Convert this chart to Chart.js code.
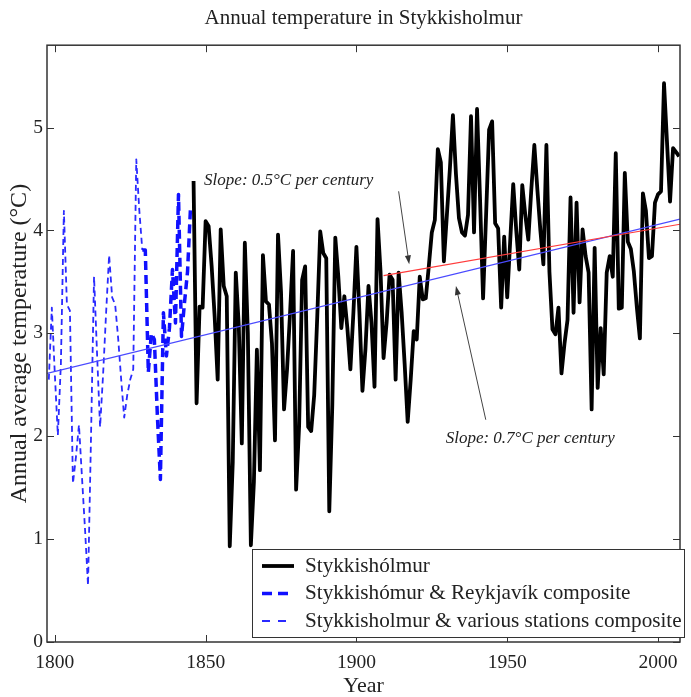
<!DOCTYPE html>
<html>
<head>
<meta charset="utf-8">
<title>Annual temperature in Stykkisholmur</title>
<script src="https://cdn.jsdelivr.net/npm/chart.js@4.4.1/dist/chart.umd.min.js"></script>
<style>
    html, body { margin: 0; padding: 0; background: #fff; }
    #wrap { width: 691px; height: 697px; }
</style>
</head>
<body>
<div id="wrap"><canvas id="tempChart"></canvas></div>
<script>
// Annual mean temperature (°C)

// Stykkisholmur & various stations composite, from 1798
const variousStart = 1798;
const variousTemps = [
    2.55, 3.25,
    2.60, 2.01, 2.70, 4.19, 3.28, 3.22, 1.54, 1.80, 2.11, 1.60,
    1.10, 0.55, 2.00, 3.55, 2.80, 2.09, 2.60, 3.20, 3.76, 3.35,
    3.28, 2.95, 2.55, 2.18, 2.40, 2.55, 2.65, 4.69, 4.20, 3.81
];

// Stykkishómur & Reykjavík composite, from 1829
const reykjavikStart = 1829;
const reykjavikTemps = [
    3.81,
    3.81, 2.62, 3.00, 2.94, 2.20, 1.58, 3.20, 2.78, 3.05, 3.62,
    3.10, 4.35, 2.97, 3.30, 3.60, 4.23
];

// Stykkishólmur station, from 1846
const stationStart = 1846;
const stationTemps = [
    4.48, 2.32, 3.26, 3.25,
    4.09, 4.04, 3.65, 3.16, 2.55, 4.01, 3.46, 3.36, 0.93, 1.75,
    3.59, 3.07, 1.93, 3.88, 3.00, 0.94, 1.55, 2.84, 1.67, 3.76,
    3.31, 3.28, 2.90, 1.96, 3.96, 3.40, 2.26, 2.65, 3.20, 3.80,
    1.48, 2.10, 3.52, 3.65, 2.09, 2.05, 2.40, 3.15, 3.99, 3.78,
    3.73, 1.27, 2.30, 3.93, 3.55, 3.05, 3.36, 3.05, 2.65, 3.20,
    3.84, 3.20, 2.44, 2.85, 3.46, 3.10, 2.48, 4.11, 3.60, 2.76,
    3.10, 3.57, 3.52, 2.55, 3.59, 3.20, 2.70, 2.14, 2.55, 3.02,
    2.94, 3.55, 3.33, 3.34, 3.65, 3.98, 4.10, 4.79, 4.66, 3.70,
    4.15, 4.60, 5.12, 4.55, 4.12, 3.98, 3.95, 4.15, 5.11, 3.98,
    5.18, 4.30, 3.34, 4.15, 4.98, 5.06, 4.07, 4.02, 3.25, 3.94,
    3.35, 3.90, 4.45, 4.00, 3.62, 4.44, 4.15, 3.91, 4.40, 4.83,
    4.40, 4.00, 3.67, 4.83, 3.60, 3.04, 2.99, 3.25, 2.61, 2.90,
    3.13, 4.32, 3.20, 4.27, 3.30, 4.01, 3.75, 3.59, 2.26, 3.83,
    2.47, 3.05, 2.60, 3.59, 3.75, 3.55, 4.75, 3.24, 3.25, 4.56,
    3.89, 3.82, 3.60, 3.25, 2.95, 4.36, 4.19, 3.73, 3.75, 4.27,
    4.35, 4.38, 5.43, 4.85, 4.28, 4.80, 4.76, 4.72
];

// Linear trends (end points)
const trendAllYears = [1797.4, 2007.3];
const trendAllTemps = [2.61, 4.11];
const trend1909Years = [1909, 2007.3];
const trend1909Temps = [3.56, 4.06];

// Axis ticks
const xTicks = [1800, 1850, 1900, 1950, 2000];
const yTicks = [0, 1, 2, 3, 4, 5];

const serif = "'Liberation Serif', 'Times New Roman', serif";
const ink = '#222';

function toPoints(start, temps) {
    return temps.map((t, i) => ({ x: start + i, y: t }));
}
function pairPoints(years, temps) {
    return years.map((yr, i) => ({ x: yr, y: temps[i] }));
}

// Slope annotations, placed in data units
const slopeNotes = [
    { text: 'Slope: 0.5°C per century', at: [1849.5, 4.48], tail: [1914.0, 4.38], tip: [1917.5, 3.67] },
    { text: 'Slope: 0.7°C per century', at: [1929.6, 1.98], tail: [1942.9, 2.16], tip: [1933.0, 3.46] }
];

// Frame, inward ticks, notes and legend box
const figureExtras = {
    id: 'figureExtras',
    afterDatasetsDraw(chart) {
        const { ctx, chartArea: a, scales: { x, y } } = chart;
        ctx.save();

        // Frame
        ctx.strokeStyle = '#333';
        ctx.lineWidth = 1.5;
        ctx.strokeRect(a.left, a.top, a.right - a.left, a.bottom - a.top);

        // Inward ticks on all four sides
        ctx.lineWidth = 1;
        ctx.beginPath();
        xTicks.forEach(v => {
            const px = Math.round(x.getPixelForValue(v)) + 0.5;
            ctx.moveTo(px, a.bottom); ctx.lineTo(px, a.bottom - 7);
            ctx.moveTo(px, a.top); ctx.lineTo(px, a.top + 7);
        });
        yTicks.forEach(v => {
            const py = Math.round(y.getPixelForValue(v)) + 0.5;
            ctx.moveTo(a.left, py); ctx.lineTo(a.left + 7, py);
            ctx.moveTo(a.right, py); ctx.lineTo(a.right - 7, py);
        });
        ctx.stroke();

        // Slope notes with arrows
        ctx.font = 'italic 17px ' + serif;
        ctx.fillStyle = ink;
        ctx.textBaseline = 'middle';
        ctx.textAlign = 'left';
        slopeNotes.forEach(n => {
            ctx.fillText(n.text, x.getPixelForValue(n.at[0]), y.getPixelForValue(n.at[1]));
            const x0 = x.getPixelForValue(n.tail[0]), y0 = y.getPixelForValue(n.tail[1]);
            const x1 = x.getPixelForValue(n.tip[0]), y1 = y.getPixelForValue(n.tip[1]);
            const ang = Math.atan2(y1 - y0, x1 - x0);
            ctx.strokeStyle = '#444';
            ctx.lineWidth = 1;
            ctx.beginPath();
            ctx.moveTo(x0, y0);
            ctx.lineTo(x1 - 6 * Math.cos(ang), y1 - 6 * Math.sin(ang));
            ctx.stroke();
            ctx.fillStyle = '#333';
            ctx.beginPath();
            ctx.moveTo(x1, y1);
            ctx.lineTo(x1 - 9 * Math.cos(ang) + 3 * Math.sin(ang), y1 - 9 * Math.sin(ang) - 3 * Math.cos(ang));
            ctx.lineTo(x1 - 9 * Math.cos(ang) - 3 * Math.sin(ang), y1 - 9 * Math.sin(ang) + 3 * Math.cos(ang));
            ctx.closePath();
            ctx.fill();
            ctx.fillStyle = ink;
        });

        // Legend box, bottom right inside the plot
        const items = chart.data.datasets.filter(d => d.inLegend);
        const boxRight = a.right + 4, boxBottom = a.bottom - 5;
        const boxW = 432, boxH = 88;
        const boxLeft = boxRight - boxW, boxTop = boxBottom - boxH;
        ctx.fillStyle = '#fff';
        ctx.fillRect(boxLeft, boxTop, boxW, boxH);
        ctx.strokeStyle = '#333';
        ctx.lineWidth = 1;
        ctx.strokeRect(boxLeft + 0.5, boxTop + 0.5, boxW, boxH);
        ctx.font = '21.2px ' + serif;
        items.forEach((d, i) => {
            const ly = boxTop + 17 + i * 27.5;
            ctx.strokeStyle = d.borderColor;
            ctx.lineWidth = d.borderWidth;
            ctx.setLineDash(d.legendDash || []);
            ctx.beginPath();
            ctx.moveTo(boxLeft + 10, ly);
            ctx.lineTo(boxLeft + 42, ly);
            ctx.stroke();
            ctx.setLineDash([]);
            ctx.fillStyle = ink;
            ctx.fillText(d.label, boxLeft + 53, ly);
        });

        ctx.restore();
    }
};

const canvas = document.getElementById('tempChart');
canvas.chart = new Chart(canvas.getContext('2d'), {
    type: 'line',
    data: {
        datasets: [
            {
                label: 'trend 1909-2007',
                data: pairPoints(trend1909Years, trend1909Temps),
                borderColor: '#ff3b3b',
                borderWidth: 1.2
            },
            {
                label: 'trend 1798-2007',
                data: pairPoints(trendAllYears, trendAllTemps),
                borderColor: '#4a4aff',
                borderWidth: 1.2
            },
            {
                label: 'Stykkishólmur',
                data: toPoints(stationStart, stationTemps),
                borderColor: '#000',
                borderWidth: 3.8,
                inLegend: true
            },
            {
                label: 'Stykkishómur & Reykjavík composite',
                data: toPoints(reykjavikStart, reykjavikTemps),
                borderColor: '#1010ff',
                borderWidth: 3.5,
                borderDash: [9, 5],
                legendDash: [10, 6],
                inLegend: true
            },
            {
                label: 'Stykkisholmur & various stations composite',
                data: toPoints(variousStart, variousTemps),
                borderColor: '#2a2aff',
                borderWidth: 1.8,
                borderDash: [6, 4],
                legendDash: [8, 8],
                inLegend: true
            }
        ]
    },
    options: {
        responsive: true,
        maintainAspectRatio: false,
        animation: false,
        layout: { padding: { left: 0, right: 11, top: 0, bottom: 0 } },
        elements: {
            point: { radius: 0 },
            line: { tension: 0, fill: false, borderJoinStyle: 'round' }
        },
        plugins: {
            legend: { display: false },
            tooltip: { enabled: false },
            title: {
                display: true,
                fullSize: false,
                text: 'Annual temperature in Stykkisholmur',
                color: ink,
                font: { family: serif, size: 21, weight: 'normal' },
                padding: { top: 6, bottom: 14 }
            }
        },
        scales: {
            x: {
                type: 'linear',
                min: 1797.4,
                max: 2007.3,
                afterBuildTicks: scale => { scale.ticks = xTicks.map(v => ({ value: v })); },
                afterFit: scale => { scale.height = 55; },
                grid: { display: false, drawTicks: false },
                border: { display: false },
                ticks: {
                    padding: 9,
                    maxRotation: 0,
                    color: ink,
                    font: { family: serif, size: 19.5 },
                    callback: v => String(v)
                },
                title: {
                    display: true,
                    text: 'Year',
                    color: ink,
                    font: { family: serif, size: 22, lineHeight: 1 },
                    padding: { top: 0, bottom: 0 }
                }
            },
            y: {
                min: 0,
                max: 5.8,
                afterBuildTicks: scale => { scale.ticks = yTicks.map(v => ({ value: v })); },
                afterFit: scale => { scale.width = 47; },
                grid: { display: false, drawTicks: false },
                border: { display: false },
                ticks: {
                    padding: 4,
                    color: ink,
                    font: { family: serif, size: 19.5 },
                    callback: v => String(v)
                },
                title: {
                    display: true,
                    text: 'Annual average temperature (°C)',
                    color: ink,
                    font: { family: serif, size: 24 },
                    padding: { top: 5, bottom: 0 }
                }
            }
        }
    },
    plugins: [figureExtras]
});
</script>
</body>
</html>
